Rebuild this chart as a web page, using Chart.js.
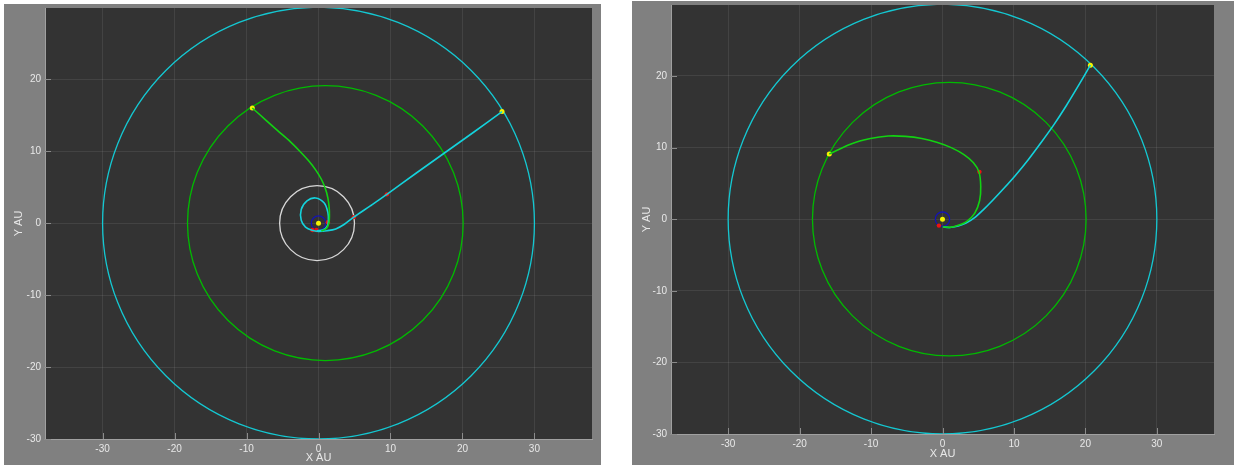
<!DOCTYPE html>
<html>
<head>
<meta charset="utf-8">
<script src="https://cdn.jsdelivr.net/npm/chart.js@4.4.1/dist/chart.umd.min.js"></script>
<style>
    body { margin: 0; background: #ffffff; }
    .panel { position: absolute; background: #808080; }
    #leftPanel { left: 4px; top: 4px; width: 597px; height: 461px; }
    #rightPanel { left: 632px; top: 1px; width: 602px; height: 464px; }
</style>
</head>
<body>
<div class="panel" id="leftPanel"><canvas id="leftChart"></canvas></div>
<div class="panel" id="rightPanel"><canvas id="rightChart"></canvas></div>
<script>
// axes (AU)
const xRange = [-38, 38];
const yRange = [-30, 29.9];
const axisTicks = [-30, -20, -10, 0, 10, 20, 30];

// planet orbits: centre x, semi-axes
const orbitNames = ['Earth', 'Jupiter', 'Uranus', 'Neptune'];
const orbitCenterX = [0, -0.2, 0.95, 0];
const orbitA = [1.0, 5.2, 19.15, 30.0];
const orbitB = [1.0, 5.2, 19.1, 30.0];
const leftOrbits = ['Earth', 'Jupiter', 'Uranus', 'Neptune'];
const rightOrbits = ['Earth', 'Uranus', 'Neptune'];

// left panel trajectories
const leftGreenX = [0.4, 1.1, 1.45, 1.52, 1.48, 1.3, 0.95, 0.4, -0.4, -1.4, -2.6, -4.0, -5.6, -7.4, -9.2];
const leftGreenY = [-1.1, -0.75, 0.0, 1.0, 2.2, 3.5, 4.8, 6.1, 7.4, 8.7, 10.0, 11.4, 12.8, 14.4, 16.0];
const leftCyanX = [-0.2, 0.6, 1.2, 1.38, 1.3, 0.8, -0.4, -1.6, -2.4, -2.4, -1.8, -0.9, 0.0, 1.2, 2.4, 3.6, 4.9, 7.2, 9.5, 13.5, 17.5, 21.5, 25.5];
const leftCyanY = [-1.05, -0.95, -0.45, 0.3, 1.5, 2.8, 3.5, 3.1, 1.9, 0.4, -0.55, -1.0, -1.15, -1.05, -0.8, -0.15, 0.83, 2.4, 4.0, 6.9, 9.75, 12.6, 15.5];
const leftYellowX = [0, -9.2, 25.5];
const leftYellowY = [0, 16.0, 15.5];
const leftRedX = [1.3, -0.85, -0.3, 4.9, 9.5];
const leftRedY = [0.12, -0.95, -0.95, 0.83, 4.0];

// right panel trajectories
const rightGreenX = [0.05, 1.0, 2.1, 3.4, 4.5, 5.2, 5.35, 5.1, 4.3, 3.0, 1.3, -0.7, -2.9, -5.2, -7.6, -10.1, -12.8, -15.85];
const rightGreenY = [-1.07, -1.15, -0.9, -0.3, 0.8, 2.6, 4.6, 6.6, 7.9, 9.0, 9.95, 10.7, 11.25, 11.55, 11.6, 11.25, 10.5, 9.1];
const rightCyanX = [0.05, 1.0, 2.2, 3.3, 4.5, 5.7, 7.0, 8.5, 10.2, 12.0, 13.8, 15.6, 17.3, 19.0, 20.7];
const rightCyanY = [-1.07, -1.17, -0.95, -0.55, 0.2, 1.3, 2.6, 4.2, 6.1, 8.3, 10.7, 13.2, 15.8, 18.6, 21.5];
const rightYellowX = [0, -15.85, 20.7];
const rightYellowY = [0, 9.1, 21.5];
const rightRedX = [5.17, -0.5];
const rightRedY = [6.6, -0.9];

// styles
const orbitColors = { Earth: '#1414b4', Jupiter: '#d8d8d8', Uranus: '#00bb00', Neptune: '#14c8d2' };
const plotBg = '#333333';
const textColor = '#e8e8e8';

function toPoints(xs, ys) {
    return xs.map((x, i) => ({ x: x, y: ys[i] }));
}

const plotAreaPlugin = {
    id: 'plotArea',
    beforeDraw(chart) {
        const { ctx, chartArea: a } = chart;
        ctx.save();
        ctx.fillStyle = plotBg;
        ctx.fillRect(a.left, a.top, a.right - a.left, a.bottom - a.top);
        ctx.restore();
    }
};

// orbits drawn through the chart scales
const orbitPlugin = {
    id: 'orbits',
    beforeDatasetsDraw(chart, args, opts) {
        const { ctx, chartArea: a, scales } = chart;
        ctx.save();
        ctx.beginPath();
        ctx.rect(a.left, a.top, a.right - a.left, a.bottom - a.top);
        ctx.clip();
        ctx.lineWidth = 1.3;
        opts.names.forEach(name => {
            const i = orbitNames.indexOf(name);
            const cx = scales.x.getPixelForValue(orbitCenterX[i]);
            const cy = scales.y.getPixelForValue(0);
            const rx = scales.x.getPixelForValue(orbitCenterX[i] + orbitA[i]) - cx;
            const ry = cy - scales.y.getPixelForValue(orbitB[i]);
            ctx.strokeStyle = orbitColors[name];
            ctx.beginPath();
            ctx.ellipse(cx, cy, rx, ry, 0, 0, Math.PI * 2);
            ctx.stroke();
        });
        ctx.restore();
    }
};

// short inward tick marks
const innerTicksPlugin = {
    id: 'innerTicks',
    afterDraw(chart) {
        const { ctx, chartArea: a, scales } = chart;
        ctx.save();
        ctx.strokeStyle = '#8c8c8c';
        ctx.lineWidth = 1;
        ctx.beginPath();
        scales.x.ticks.forEach(t => {
            const px = Math.round(scales.x.getPixelForValue(t.value)) + 0.5;
            ctx.moveTo(px, a.bottom);
            ctx.lineTo(px, a.bottom - 6);
        });
        scales.y.ticks.forEach(t => {
            const py = Math.round(scales.y.getPixelForValue(t.value)) + 0.5;
            ctx.moveTo(a.left - 1, py);
            ctx.lineTo(a.left + 6, py);
        });
        ctx.stroke();
        ctx.restore();
    }
};

function lineSet(points, color) {
    return { data: points, showLine: true, borderColor: color, borderWidth: 1.6, pointRadius: 0, tension: 0.3, fill: false };
}

function dotSet(points, color, r) {
    return { data: points, showLine: false, backgroundColor: color, borderColor: color, pointRadius: r, pointBorderWidth: 0 };
}

function keepTicks(s) {
    s.ticks = axisTicks.filter(v => v >= s.min && v <= s.max).map(v => ({ value: v }));
}

function makeChart(id, p) {
    const tickFont = { family: 'Liberation Sans, Arial, sans-serif', size: 10 };
    return new Chart(document.getElementById(id), {
        type: 'scatter',
        data: {
            datasets: [
                lineSet(toPoints(p.greenX, p.greenY), '#12d212'),
                lineSet(toPoints(p.cyanX, p.cyanY), '#14d2dc'),
                dotSet(toPoints(p.redX, p.redY), '#ee1111', 2.2),
                dotSet(toPoints(p.yellowX, p.yellowY), '#f4f400', 2.5)
            ]
        },
        options: {
            responsive: true,
            maintainAspectRatio: false,
            animation: false,
            layout: { padding: { top: p.padTop, right: p.padRight, left: 0, bottom: 0 } },
            plugins: {
                legend: { display: false },
                tooltip: { enabled: false },
                orbits: { names: p.orbits }
            },
            scales: {
                x: {
                    type: 'linear',
                    min: xRange[0],
                    max: xRange[1],
                    afterBuildTicks: keepTicks,
                    afterFit: s => { s.height = p.xAxisHeight; s.paddingLeft = 0; s.paddingRight = 0; },
                    ticks: { color: textColor, font: tickFont, padding: p.xTickPad, maxRotation: 0 },
                    grid: { color: 'rgba(255,255,255,0.08)', tickLength: 0 },
                    border: { color: '#a0a0a0' },
                    title: { display: true, text: 'X AU', color: textColor, font: { ...tickFont, size: 11 }, padding: { top: 0, bottom: p.xTitlePad } }
                },
                y: {
                    type: 'linear',
                    min: yRange[0],
                    max: yRange[1],
                    afterBuildTicks: keepTicks,
                    afterFit: s => { s.width = p.yAxisWidth; s.paddingTop = 0; s.paddingBottom = 0; },
                    ticks: { color: textColor, font: tickFont, padding: 4 },
                    grid: { color: 'rgba(255,255,255,0.08)', tickLength: 0 },
                    border: { color: '#a0a0a0' },
                    title: { display: true, text: 'Y AU', color: textColor, font: { ...tickFont, size: 11 }, padding: { top: p.yTitlePad, bottom: 0 } }
                }
            }
        },
        plugins: [plotAreaPlugin, orbitPlugin, innerTicksPlugin]
    });
}

makeChart('leftChart', {
    greenX: leftGreenX, greenY: leftGreenY, cyanX: leftCyanX, cyanY: leftCyanY,
    redX: leftRedX, redY: leftRedY, yellowX: leftYellowX, yellowY: leftYellowY,
    orbits: leftOrbits,
    padTop: 3, padRight: 9, xAxisHeight: 26, yAxisWidth: 41,
    xTickPad: 4, xTitlePad: 0, yTitlePad: 8
});

makeChart('rightChart', {
    greenX: rightGreenX, greenY: rightGreenY, cyanX: rightCyanX, cyanY: rightCyanY,
    redX: rightRedX, redY: rightRedY, yellowX: rightYellowX, yellowY: rightYellowY,
    orbits: rightOrbits,
    padTop: 4, padRight: 20, xAxisHeight: 31, yAxisWidth: 39,
    xTickPad: 4, xTitlePad: 4, yTitlePad: 8
});
</script>
</body>
</html>
